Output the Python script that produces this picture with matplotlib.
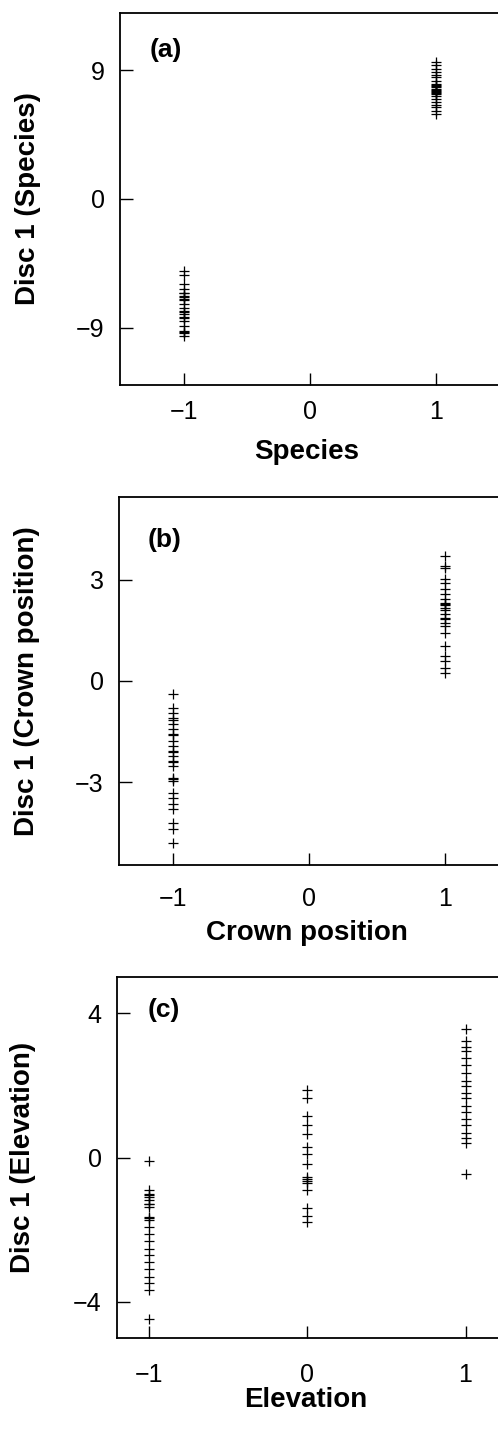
import matplotlib.pyplot as plt

plt.rcParams['font.family'] = ['Liberation Sans', 'DejaVu Sans']

# (a) discriminant scores by species
species_neg = [-5.05, -5.3, -5.95, -6.3, -6.55, -6.6, -6.8, -6.85, -7.0, -7.05,
               -7.35, -7.6, -7.85, -7.9, -8.05, -8.25, -8.3, -8.55, -8.9,
               -9.25, -9.3, -9.4, -9.6]
species_pos = [9.6, 9.4, 9.1, 8.9, 8.7, 8.5, 8.25, 8.05, 7.95, 7.9, 7.8, 7.7,
               7.65, 7.55, 7.45, 7.4, 7.35, 7.2, 7.0, 6.8, 6.6, 6.4, 6.15, 5.95]

# (b) discriminant scores by crown position
crown_neg = [-0.39, -0.8, -0.95, -1.1, -1.15, -1.28, -1.42, -1.57, -1.6, -1.78,
             -1.93, -2.08, -2.1, -2.23, -2.37, -2.4, -2.52, -2.88, -2.91,
             -2.95, -3.32, -3.47, -3.65, -3.8, -4.21, -4.39, -4.81]
crown_pos = [3.71, 3.41, 3.35, 3.03, 2.91, 2.73, 2.58, 2.43, 2.31, 2.28, 2.25,
             2.17, 2.1, 1.99, 1.87, 1.85, 1.72, 1.63, 1.42, 1.04, 0.74, 0.59,
             0.39, 0.24]

# (c) discriminant scores by elevation
elev_low = [-0.1, -0.91, -1.0, -1.05, -1.1, -1.19, -1.28, -1.3, -1.37, -1.65,
            -1.67, -1.74, -1.93, -2.12, -2.3, -2.53, -2.71, -2.9, -3.08,
            -3.31, -3.49, -3.68, -4.46]
elev_mid = [1.86, 1.66, 1.16, 0.89, 0.66, 0.28, 0.11, -0.17, -0.55, -0.6,
            -0.64, -0.72, -0.91, -1.41, -1.61, -1.8]
elev_high = [3.57, 3.24, 3.05, 2.96, 2.77, 2.55, 2.33, 2.13, 1.99, 1.8, 1.66,
             1.44, 1.25, 1.08, 0.89, 0.69, 0.53, 0.39, -0.47]

W, H = 498, 1436
fig = plt.figure(figsize=(W / 100, H / 100), dpi=100)


def panel(left, top, right, bottom):
    return fig.add_axes([left / W, 1 - bottom / H, (right - left) / W, (bottom - top) / H])


def style(ax, tag, xlabel, ylabel, yticks, xpad, tagpos, ylab_x, xlab_y, box):
    left, top, right, bottom = box
    ax.set_xticks([-1, 0, 1])
    ax.set_yticks(yticks)
    ax.tick_params(direction='in', length=9, width=1, labelsize=18)
    ax.tick_params(axis='y', pad=11)
    ax.tick_params(axis='x', pad=xpad)
    for s in ax.spines.values():
        s.set_linewidth(1.3)
    ax.set_xlabel(xlabel, fontsize=20, fontweight='bold')
    ax.set_ylabel(ylabel, fontsize=20, fontweight='bold')
    ax.xaxis.set_label_coords(0.5 - (right - 498) / (right - left) / 2 - 0.005,
                              (bottom - xlab_y) / (bottom - top))
    ax.xaxis.label.set_va('center')
    ax.yaxis.set_label_coords((ylab_x - left) / (right - left), 0.5)
    ax.yaxis.label.set_va('center')
    ax.text(tagpos[0], tagpos[1], tag, transform=ax.transAxes, fontsize=19,
            fontweight='bold', ha='left', va='top')


mk = dict(marker='+', linestyle='none', color='black', markersize=7, markeredgewidth=0.9)

# panel (a)
box_a = (120, 13, 502, 385)
ax = panel(*box_a)
ax.plot([-1] * len(species_neg), species_neg, **mk)
ax.plot([1] * len(species_pos), species_pos, **mk)
ax.set_xlim(-1.51, 1.52)
ax.set_ylim(-13, 13)
style(ax, '(a)', 'Species', 'Disc 1 (Species)', [-9, 0, 9], 11,
      (0.078, 0.933), 28, 452, box_a)

# panel (b)
box_b = (119, 497, 502, 865)
ax = panel(*box_b)
ax.plot([-1] * len(crown_neg), crown_neg, **mk)
ax.plot([1] * len(crown_pos), crown_pos, **mk)
ax.set_xlim(-1.4, 1.42)
ax.set_ylim(-5.45, 5.45)
style(ax, '(b)', 'Crown position', 'Disc 1 (Crown position)', [-3, 0, 3], 16,
      (0.076, 0.916), 27, 933, box_b)

# panel (c)
box_c = (117, 977, 502, 1338)
ax = panel(*box_c)
ax.plot([-1] * len(elev_low), elev_low, **mk)
ax.plot([0] * len(elev_mid), elev_mid, **mk)
ax.plot([1] * len(elev_high), elev_high, **mk)
ax.set_xlim(-1.2, 1.23)
ax.set_ylim(-5, 5)
style(ax, '(c)', 'Elevation', 'Disc 1 (Elevation)', [-4, 0, 4], 18,
      (0.08, 0.942), 23, 1400, box_c)

fig.savefig('out.png', dpi=100)
